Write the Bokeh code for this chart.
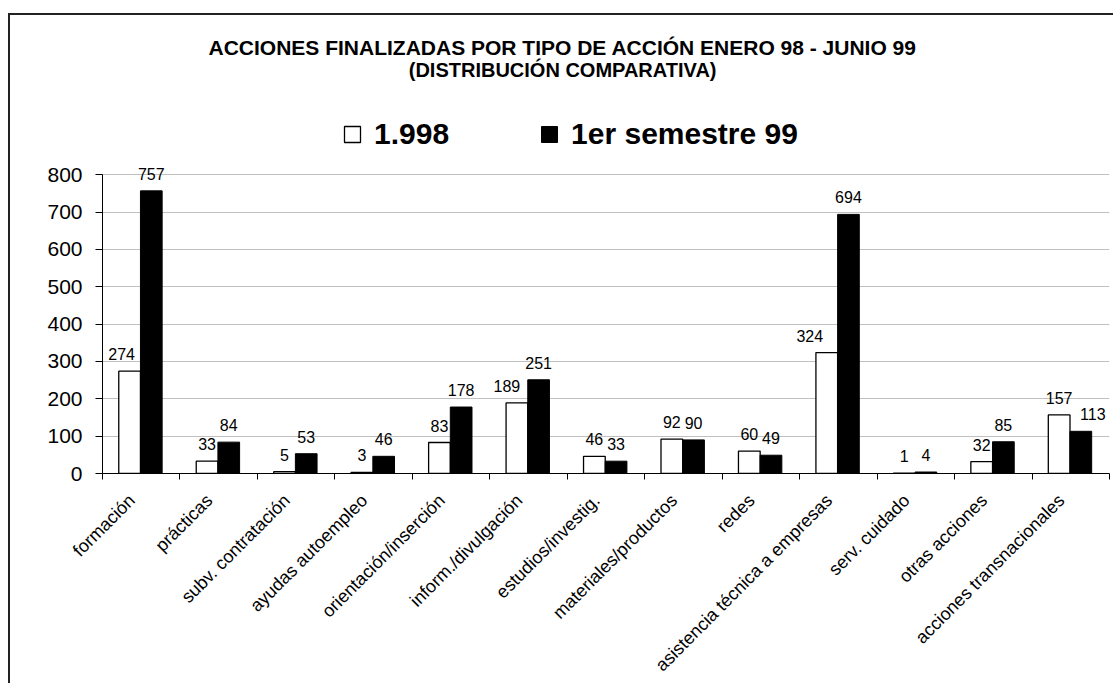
import math
from bokeh.plotting import figure
from bokeh.models import (Range1d, FixedTicker, CustomJSTickFormatter, ColumnDataSource,
                          LabelSet, Label, Legend, LegendItem)
from bokeh.core.properties import value
from bokeh.embed import file_html
from bokeh.resources import INLINE

categories = ["formación", "prácticas", "subv. contratación", "ayudas autoempleo",
              "orientación/inserción", "inform./divulgación", "estudios/investig.",
              "materiales/productos", "redes", "asistencia técnica a empresas",
              "serv. cuidado", "otras acciones", "acciones transnacionales"]
y1998 = [274, 33, 5, 3, 83, 189, 46, 92, 60, 324, 1, 32, 157]
y1999 = [757, 84, 53, 46, 178, 251, 33, 90, 49, 694, 4, 85, 113]
series_names = ["1.998", "1er semestre 99"]
y_ticks = [0, 100, 200, 300, 400, 500, 600, 700, 800]
title_lines = ["ACCIONES FINALIZADAS POR TIPO DE ACCIÓN ENERO 98 - JUNIO 99",
               "(DISTRIBUCIÓN COMPARATIVA)"]

# label nudges (pixels) so value labels do not overlap the neighbouring bar
nudge_a = [-8, 0, 0, 0, 0, -10, 0, 0, 0, -17, 0, 0, 0]
nudge_b = [0, 0, 0, 0, 0, 0, 0, 0, 0, 0, 0, 0, 12]

FONT = "Liberation Sans"
n = len(categories)
centers = [i + 0.5 for i in range(n)]
label_pos = [i + 0.38 for i in range(n)]
bounds = [i for i in range(n + 1)]
off_a, off_b, bw = -0.15, 0.13, 0.28

src = ColumnDataSource(dict(
    xa=[c + off_a for c in centers], xb=[c + off_b for c in centers],
    ya=y1998, yb=y1999,
    ta=[str(v) for v in y1998], tb=[str(v) for v in y1999],
    na=nudge_a, nb=nudge_b,
))

# frame: 0 -> page y 475, 0.375 px per unit, frame top at page y 15
Y_TOP = (475 - 15) / 0.375

p = figure(width=1105, height=670, output_backend="svg", toolbar_location=None,
           x_range=Range1d(0, n), y_range=Range1d(0, Y_TOP),
           min_border_left=92, min_border_right=6, min_border_top=0, min_border_bottom=210)
p.margin = (13, 0, 0, 8)
p.styles = {"border-left": "2px solid #222", "border-top": "2px solid #222"}
p.outline_line_color = None
p.background_fill_color = "white"
p.border_fill_color = "white"

ra = p.vbar(x="xa", top="ya", width=bw, source=src, fill_color="white", line_color="black", line_width=1.3)
rb = p.vbar(x="xb", top="yb", width=bw, source=src, fill_color="black", line_color="black", line_width=1)

for col_x, col_y, col_t, col_n in (("xa", "ya", "ta", "na"), ("xb", "yb", "tb", "nb")):
    p.add_layout(LabelSet(x=col_x, y=col_y, text=col_t, source=src, text_align="center",
                          text_baseline="bottom", y_offset=11, x_offset=col_n,
                          text_font=value(FONT), text_font_size=value("16px"),
                          text_color="black"))

# axes
p.xaxis.ticker = FixedTicker(ticks=label_pos, minor_ticks=bounds)
p.xaxis.formatter = CustomJSTickFormatter(args=dict(labels=categories),
                                          code="const i = Math.floor(tick); return (i >= 0 && i < labels.length) ? labels[i] : '';")
p.xaxis.major_tick_out = 0
p.xaxis.major_tick_in = 0
p.xaxis.minor_tick_out = 6
p.xaxis.minor_tick_in = 0
p.xaxis.minor_tick_line_color = "black"
p.xaxis.axis_line_color = "black"
p.xaxis.major_label_orientation = math.pi / 4
p.xaxis.major_label_text_font = FONT
p.xaxis.major_label_text_font_size = "18px"
p.xaxis.major_label_text_color = "black"
p.xaxis.major_label_standoff = 18

p.yaxis.ticker = FixedTicker(ticks=y_ticks)
p.yaxis.bounds = (0, 800)
p.yaxis.minor_tick_line_color = None
p.yaxis.major_tick_out = 7
p.yaxis.major_tick_in = 0
p.yaxis.axis_line_color = "black"
p.yaxis.major_tick_line_color = "black"
p.yaxis.major_label_text_font = FONT
p.yaxis.major_label_text_font_size = "21px"
p.yaxis.major_label_text_color = "black"
p.yaxis.major_label_standoff = 13

p.xgrid.grid_line_color = None
p.ygrid.ticker = FixedTicker(ticks=y_ticks)
p.ygrid.grid_line_color = "#c0c0c0"
p.ygrid.grid_line_width = 1

# title (two lines)
for txt, yy, fs in zip(title_lines, [(475 - 47) / 0.375, (475 - 70) / 0.375], ["21px", "20px"]):
    p.add_layout(Label(x=5.94, y=yy, text=txt, text_align="center", text_baseline="middle",
                       text_font=FONT, text_font_size=fs, text_font_style="bold",
                       text_color="black"))

legend = Legend(items=[LegendItem(label=series_names[0], renderers=[ra]),
                       LegendItem(label=series_names[1], renderers=[rb])],
                location=(240, 322), orientation="horizontal",
                glyph_width=20, glyph_height=20, label_standoff=12, spacing=90,
                padding=0, margin=0, border_line_color=None, background_fill_alpha=0,
                label_text_font=FONT, label_text_font_size="30px", label_text_font_style="bold",
                label_text_color="black")
p.add_layout(legend, "center")

open("out.html", "w").write(file_html(p, INLINE))
